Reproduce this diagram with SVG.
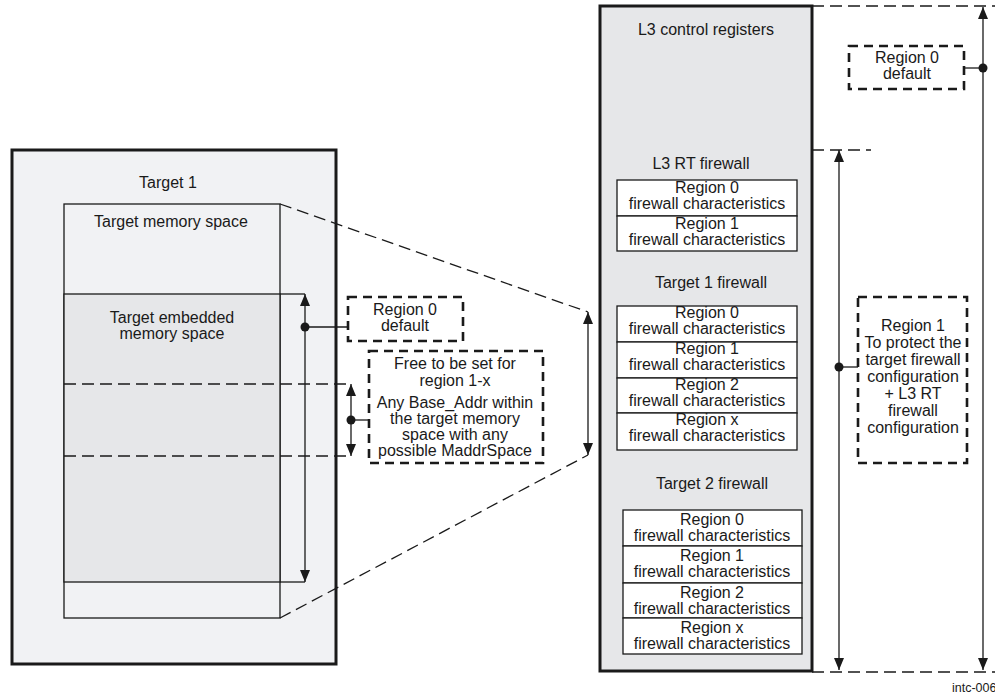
<svg xmlns="http://www.w3.org/2000/svg" width="995" height="696" viewBox="0 0 995 696">
<style>
text{font-family:"Liberation Sans",Arial,sans-serif;font-size:16px;fill:#1a1a1a;text-anchor:middle}
.thin{stroke:#1a1a1a;stroke-width:1.3;fill:none}
.dash{stroke:#1a1a1a;stroke-width:1.3;fill:none;stroke-dasharray:12 6}
.dbox{stroke:#1a1a1a;stroke-width:2.6;fill:#fff;stroke-dasharray:9 6}
.reg{stroke:#1a1a1a;stroke-width:1.3;fill:#fff}
.arr{stroke:#1a1a1a;stroke-width:1.3;fill:none;marker-start:url(#ah);marker-end:url(#ah)}
.dot{fill:#1a1a1a}
</style>
<defs>
<marker id="ah" viewBox="0 0 12 10" refX="12" refY="5" markerWidth="12" markerHeight="10" markerUnits="userSpaceOnUse" orient="auto-start-reverse">
<path d="M0,0 L12,5 L0,10 z" fill="#1a1a1a"/>
</marker>
</defs>

<g id="target1">
<rect x="12" y="150" width="324" height="514" fill="#f1f2f4" stroke="#1a1a1a" stroke-width="3"/>
<text x="168" y="188">Target 1</text>
</g>

<g id="memory">
<rect x="64" y="204" width="216" height="414" fill="#f1f2f4" stroke="#1a1a1a" stroke-width="1.3"/>
<rect x="64" y="294" width="216" height="288" fill="#e6e7e9" stroke="#1a1a1a" stroke-width="1.3"/>
<text x="171" y="227">Target memory space</text>
<text x="172" y="323">Target embedded</text>
<text x="172" y="339">memory space</text>
</g>

<g id="region0-mid">
<rect x="348" y="297" width="115" height="44" class="dbox"/>
<text x="405" y="315">Region 0</text>
<text x="405" y="331">default</text>
</g>

<g id="free-region">
<rect x="369" y="351" width="174" height="112" class="dbox"/>
<text x="455" y="369">Free to be set for</text>
<text x="455" y="386">region 1-x</text>
<text x="455" y="408">Any Base_Addr within</text>
<text x="455" y="424">the target memory</text>
<text x="455" y="440">space with any</text>
<text x="455" y="456">possible MaddrSpace</text>
</g>

<g id="l3panel">
<rect x="600" y="6" width="212" height="665" fill="#e6e7e9" stroke="#1a1a1a" stroke-width="3"/>
<text x="706" y="35">L3 control registers</text>
<text x="701" y="169">L3 RT firewall</text>
</g>

<g id="l3rt">
<rect x="617" y="180" width="180" height="36" class="reg"/>
<rect x="617" y="216" width="180" height="35" class="reg"/>
<text x="707" y="193">Region 0</text>
<text x="707" y="209">firewall  characteristics</text>
<text x="707" y="229">Region 1</text>
<text x="707" y="245">firewall  characteristics</text>
</g>

<g id="t1fw">
<text x="711" y="288">Target 1 firewall</text>
<rect x="617" y="306" width="180" height="36" class="reg"/>
<rect x="617" y="342" width="180" height="36" class="reg"/>
<rect x="617" y="378" width="180" height="35" class="reg"/>
<rect x="617" y="413" width="180" height="37" class="reg"/>
<text x="707" y="318">Region 0</text>
<text x="707" y="334">firewall  characteristics</text>
<text x="707" y="354">Region 1</text>
<text x="707" y="370">firewall  characteristics</text>
<text x="707" y="390">Region 2</text>
<text x="707" y="406">firewall  characteristics</text>
<text x="707" y="425">Region x</text>
<text x="707" y="441">firewall  characteristics</text>
</g>

<g id="t2fw">
<text x="712" y="489">Target 2 firewall</text>
<rect x="623" y="510" width="179" height="36" class="reg"/>
<rect x="623" y="546" width="179" height="37" class="reg"/>
<rect x="623" y="583" width="179" height="35" class="reg"/>
<rect x="623" y="618" width="179" height="36" class="reg"/>
<text x="712" y="525">Region 0</text>
<text x="712" y="541">firewall  characteristics</text>
<text x="712" y="561">Region 1</text>
<text x="712" y="577">firewall  characteristics</text>
<text x="712" y="598">Region 2</text>
<text x="712" y="614">firewall  characteristics</text>
<text x="712" y="633">Region x</text>
<text x="712" y="649">firewall  characteristics</text>
</g>

<g id="region0-right">
<rect x="849" y="46" width="115" height="43" class="dbox"/>
<text x="907" y="63">Region 0</text>
<text x="907" y="79">default</text>
</g>

<g id="region1-right">
<rect x="858" y="297" width="109" height="166" class="dbox"/>
<text x="913" y="331">Region 1</text>
<text x="913" y="348">To protect the</text>
<text x="913" y="365">target firewall</text>
<text x="913" y="382">configuration</text>
<text x="913" y="399">+ L3 RT</text>
<text x="913" y="416">firewall</text>
<text x="913" y="433">configuration</text>
</g>

<g id="connectors">
<line x1="64" y1="384" x2="352" y2="384" class="dash"/>
<line x1="64" y1="456" x2="352" y2="456" class="dash"/>
<line x1="280" y1="204" x2="588" y2="312" class="dash"/>
<line x1="280" y1="618" x2="588" y2="455" class="dash"/>
<line x1="280" y1="294" x2="305" y2="294" class="thin"/>
<line x1="280" y1="582" x2="305" y2="582" class="thin"/>
<line x1="305" y1="294" x2="305" y2="582" class="arr"/>
<circle cx="305" cy="327" r="4.5" class="dot"/>
<line x1="305" y1="327" x2="348" y2="327" class="thin"/>
<line x1="351" y1="384" x2="351" y2="456" class="arr"/>
<circle cx="351" cy="420" r="4.5" class="dot"/>
<line x1="351" y1="420" x2="369" y2="420" class="thin"/>
<line x1="588" y1="312" x2="588" y2="455" class="arr"/>
<line x1="812" y1="6" x2="995" y2="6" class="dash"/>
<line x1="812" y1="150" x2="871" y2="150" class="dash"/>
<line x1="812" y1="672" x2="995" y2="672" class="dash"/>
<line x1="983" y1="7" x2="983" y2="670" class="arr"/>
<circle cx="983" cy="68" r="4.5" class="dot"/>
<line x1="964" y1="68" x2="983" y2="68" class="thin"/>
<line x1="839" y1="150" x2="839" y2="670" class="arr"/>
<circle cx="839" cy="367" r="4.5" class="dot"/>
<line x1="839" y1="367" x2="858" y2="367" class="thin"/>
</g>

<text x="952" y="692" style="font-size:12.5px;text-anchor:start">intc-006</text>
</svg>
